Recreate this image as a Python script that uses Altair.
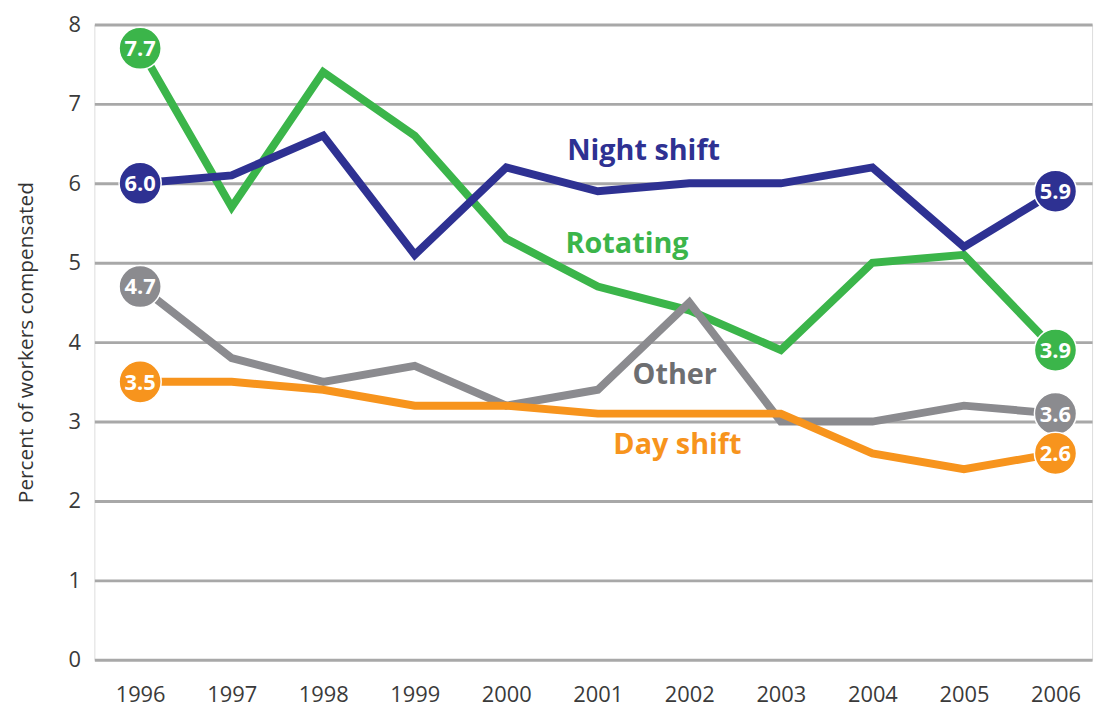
import altair as alt
import pandas as pd

years = [1996, 1997, 1998, 1999, 2000, 2001, 2002, 2003, 2004, 2005, 2006]
night = [6.0, 6.1, 6.6, 5.1, 6.2, 5.9, 6.0, 6.0, 6.2, 5.2, 5.9]
rotating = [7.7, 5.7, 7.4, 6.6, 5.3, 4.7, 4.4, 3.9, 5.0, 5.1, 3.9]
other = [4.7, 3.8, 3.5, 3.7, 3.2, 3.4, 4.5, 3.0, 3.0, 3.2, 3.1]
day = [3.5, 3.5, 3.4, 3.2, 3.2, 3.1, 3.1, 3.1, 2.6, 2.4, 2.6]

series_names = ["Rotating", "Night shift", "Other", "Day shift"]
series_values = [rotating, night, other, day]
series_colors = ["#3bb54a", "#2e3192", "#8b8b8f", "#f7941d"]
label_colors = ["#3bb54a", "#2e3192", "#6d6e71", "#f7941d"]

# end-point badge texts (first and last year)
start_texts = ["7.7", "6.0", "4.7", "3.5"]
end_texts = ["3.9", "5.9", "3.6", "2.6"]

# series name label anchors (data coords)
name_x = [2001.32, 2001.5, 2001.84, 2001.87]
name_y = [5.24, 6.41, 3.59, 2.70]

rows = []
for n, vals in zip(series_names, series_values):
    for yr, v in zip(years, vals):
        rows.append({"series": n, "year": yr, "value": v})
df = pd.DataFrame(rows)

ends = []
for n, vals, st, et in zip(series_names, series_values, start_texts, end_texts):
    ends.append({"series": n, "year": years[0], "value": vals[0], "txt": st})
    ends.append({"series": n, "year": years[-1], "value": vals[-1], "txt": et})
ends_df = pd.DataFrame(ends)

names_df = pd.DataFrame({"series": series_names, "x": name_x, "y": name_y})

FONT = "Open Sans"

xscale = alt.Scale(domain=[1995.5, 2006.4], nice=False, zero=False)
yscale = alt.Scale(domain=[0, 8], nice=False)
cscale = alt.Scale(domain=series_names, range=series_colors)
lscale = alt.Scale(domain=series_names, range=label_colors)

x_enc = alt.X("year:Q", scale=xscale, axis=alt.Axis(
    values=years, format="d", title=None, grid=False, domain=False, ticks=False,
    labelPadding=25, labelFontSize=22, labelColor="#3a3a3a", labelFont=FONT))
y_enc = alt.Y("value:Q", scale=yscale, axis=alt.Axis(
    values=list(range(0, 9)), format="d", title="Percent of workers compensated",
    titleFontSize=21, titleFontWeight="normal", titleColor="#333333", titleFont=FONT,
    titlePadding=32,
    grid=True, gridColor="#a8a8a8", gridWidth=3, domain=False, ticks=False,
    labelPadding=14, labelFontSize=22, labelColor="#3a3a3a", labelFont=FONT))

lines = alt.Chart(df).mark_line(strokeWidth=8, strokeJoin="miter").encode(
    x=x_enc, y=y_enc,
    color=alt.Color("series:N", scale=cscale, legend=None),
    detail="series:N",
    order=alt.Order("year:Q"),
)

dots = alt.Chart(ends_df).mark_point(filled=True, size=1800, opacity=1,
                                     stroke="#ffffff", strokeWidth=1.5, shape="circle").encode(
    x=alt.X("year:Q", scale=xscale),
    y=alt.Y("value:Q", scale=yscale),
    fill=alt.Fill("series:N", scale=cscale, legend=None),
)

dot_text = alt.Chart(ends_df).mark_text(font=FONT, fontWeight="bold", fontSize=22,
                                        color="white", baseline="middle", align="center", dy=1).encode(
    x=alt.X("year:Q", scale=xscale),
    y=alt.Y("value:Q", scale=yscale),
    text="txt:N",
)

name_text = alt.Chart(names_df).mark_text(font=FONT, fontWeight="bold", fontSize=29,
                                          baseline="middle", align="center").encode(
    x=alt.X("x:Q", scale=xscale),
    y=alt.Y("y:Q", scale=yscale),
    text="series:N",
    color=alt.Color("series:N", scale=lscale, legend=None),
)

chart = alt.layer(lines, dots, dot_text, name_text).resolve_scale(color="independent").properties(
    width=1005, height=640,
    autosize=alt.AutoSizeParams(type="none"),
    padding={"left": 87, "top": 14, "right": 10, "bottom": 50},
).configure_view(stroke=None).configure(background="white")

chart.save("out.html", embed_options={"renderer": "svg", "actions": False})
